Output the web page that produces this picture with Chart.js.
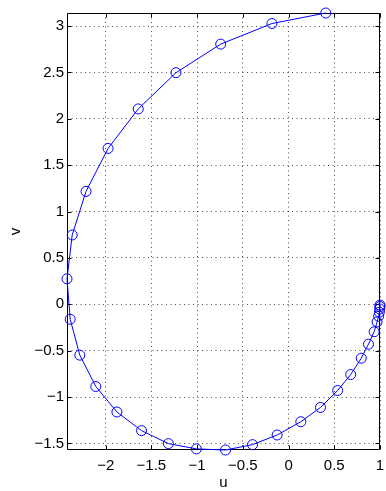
<!DOCTYPE html>
<html>
<head>
<meta charset="utf-8">
<script src="https://cdn.jsdelivr.net/npm/chart.js@4"></script>
<style>
  html, body { margin: 0; padding: 0; background: #fff; }
</style>
</head>
<body>
<canvas id="chart" width="386" height="491"></canvas>
<script>
// phase path (u, v)
const u = [0.407, -0.182, -0.742, -1.231, -1.644, -1.974, -2.215, -2.366, -2.423, -2.388,
           -2.283, -2.108, -1.877, -1.608, -1.314, -1.008, -0.689, -0.394, -0.125, 0.134,
           0.349, 0.537, 0.680, 0.795, 0.874, 0.936, 0.968, 0.985, 0.993, 0.997, 0.999, 1.0];
const v = [3.1416, 3.028, 2.806, 2.498, 2.107, 1.681, 1.218, 0.748, 0.275, -0.161,
           -0.548, -0.886, -1.161, -1.362, -1.502, -1.559, -1.5708, -1.513, -1.409, -1.266,
           -1.112, -0.929, -0.757, -0.581, -0.430, -0.296, -0.190, -0.128, -0.085, -0.05, -0.025, -0.008];
const xTicks = [-2, -1.5, -1, -0.5, 0, 0.5, 1];
const yTicks = [-1.5, -1, -0.5, 0, 0.5, 1, 1.5, 2, 2.5, 3];

const fmt = val => String(val).replace('-', '\u2212');

// box + inward tick marks like the matlab axes
const boxTicks = {
    id: 'boxTicks',
    beforeDatasetsDraw(chart) {
        const { ctx, chartArea: a, scales } = chart;
        const L = Math.round(a.left) + 0.5, R = Math.round(a.right) - 0.5;
        const T = Math.round(a.top) + 0.5, B = Math.round(a.bottom) - 0.5;
        ctx.save();
        ctx.strokeStyle = '#000';
        ctx.lineWidth = 1;
        ctx.beginPath();
        ctx.rect(L, T, R - L, B - T);
        xTicks.forEach(t => {
            const px = Math.round(scales.x.getPixelForValue(t)) + 0.5;
            ctx.moveTo(px, B); ctx.lineTo(px, B - 4);
            ctx.moveTo(px, T); ctx.lineTo(px, T + 4);
        });
        yTicks.forEach(t => {
            const py = Math.round(scales.y.getPixelForValue(t)) + 0.5;
            ctx.moveTo(L, py); ctx.lineTo(L + 4, py);
            ctx.moveTo(R, py); ctx.lineTo(R - 4, py);
        });
        ctx.stroke();
        ctx.restore();
    }
};

const font = { family: '"Liberation Sans", Arial, sans-serif', size: 15, lineHeight: 1 };

new Chart(document.getElementById('chart'), {
    type: 'scatter',
    data: {
        datasets: [{
            data: u.map((x, i) => ({ x, y: v[i] })),
            showLine: true,
            borderColor: '#0000ff',
            borderWidth: 1,
            pointRadius: 5,
            pointBorderWidth: 1,
            pointBorderColor: '#0000ff',
            pointBackgroundColor: 'rgba(0,0,0,0)',
            tension: 0,
            clip: false
        }]
    },
    options: {
        responsive: false,
        animation: false,
        events: [],
        layout: { padding: { top: 13, right: 1, bottom: 0, left: 0 } },
        plugins: { legend: { display: false }, tooltip: { enabled: false } },
        scales: {
            x: {
                type: 'linear',
                min: Math.min(...u),
                max: Math.max(...u),
                afterBuildTicks: s => { s.ticks = xTicks.map(t => ({ value: t })); },
                afterFit: s => { s.height = 41; s.paddingLeft = 0; s.paddingRight = 0; },
                ticks: { autoSkip: false, maxRotation: 0, padding: 8, color: '#000', font, callback: fmt },
                grid: { color: 'rgba(0,0,0,0.7)', lineWidth: 1, drawTicks: false },
                border: { display: false, dash: [1, 3.5] },
                title: { display: true, text: 'u', color: '#000', font, padding: { top: 0, bottom: 0.5 } }
            },
            y: {
                type: 'linear',
                min: Math.min(...v),
                max: Math.max(...v),
                afterBuildTicks: s => { s.ticks = yTicks.map(t => ({ value: t })); },
                afterFit: s => { s.width = 67; s.paddingTop = 0; s.paddingBottom = 0; },
                ticks: { autoSkip: false, padding: 3, color: '#000', font, callback: fmt },
                grid: { color: 'rgba(0,0,0,0.7)', lineWidth: 1, drawTicks: false },
                border: { display: false, dash: [1, 3.5] },
                title: { display: true, text: 'v', color: '#000', font, padding: { top: 8, bottom: 0 } }
            }
        }
    },
    plugins: [boxTicks]
});
</script>
</body>
</html>
